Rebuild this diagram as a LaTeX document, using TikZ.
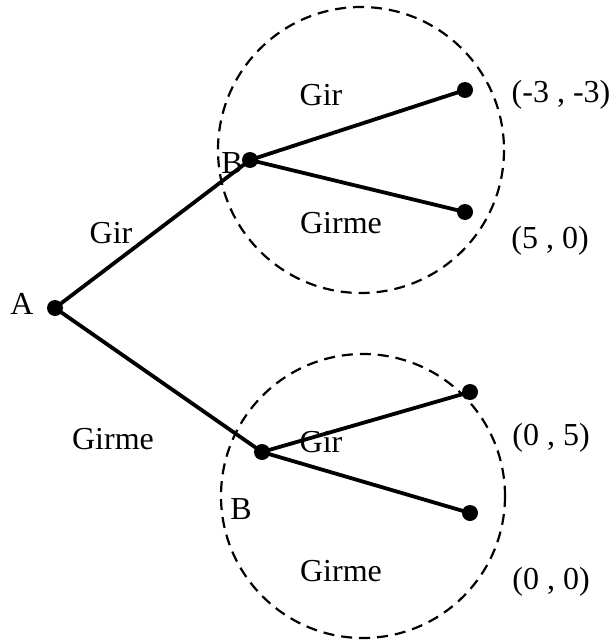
\documentclass[tikz,border=0pt]{standalone}
\usepackage{fontspec}
\setmainfont{Liberation Serif}
\begin{document}
\begin{tikzpicture}[x=1pt,y=-1pt,
  dot/.style={circle,fill=black,inner sep=0pt,minimum size=16pt},
  edge/.style={line width=3.8pt},
  ring/.style={line width=2.2pt,dash pattern=on 11pt off 7pt},
  lbl/.style={inner sep=0pt,font=\fontsize{32}{38}\selectfont}]
\useasboundingbox (0,0) rectangle (609,642);
% rings
\coordinate (c1) at (361,150);
\coordinate (c2) at (363,496);
\draw[ring] (c1) circle (143);
\draw[ring] (c2) circle (142);
% labels under dots
\node[lbl] (tB1) at (232,163) {B};
% dots
\node[dot] (A) at (55,308) {};
\node[dot] (B1) at (250,160) {};
\node[dot] (L1) at (465,90) {};
\node[dot] (L2) at (465,212) {};
\node[dot] (B2) at (262,452) {};
\node[dot] (L3) at (470,392) {};
\node[dot] (L4) at (470,513) {};
% edges
\draw[edge] (A.center) -- (B1.center);
\draw[edge] (A.center) -- (B2.center);
\draw[edge] (B1.center) -- (L1.center);
\draw[edge] (B1.center) -- (L2.center);
\draw[edge] (B2.center) -- (L3.center);
\draw[edge] (B2.center) -- (L4.center);
% labels
\node[lbl] (tA) at (22,304) {A};
\node[lbl] (tGir1) at (111,233) {Gir};
\node[lbl] (tGirme1) at (113,439) {Girme};
\node[lbl] (tGir2) at (321,95) {Gir};
\node[lbl] (tGirme2) at (341,223) {Girme};
\node[lbl] (p1) at (561,95) {(-3 , -3)};
\node[lbl] (p2) at (550,241) {(5 , 0)};
\node[lbl] (tGir3) at (321,442) {Gir};
\node[lbl] (tB2) at (241,509) {B};
\node[lbl] (tGirme3) at (341,571) {Girme};
\node[lbl] (p3) at (551,438) {(0 , 5)};
\node[lbl] (p4) at (551,582) {(0 , 0)};
\end{tikzpicture}
\end{document}
